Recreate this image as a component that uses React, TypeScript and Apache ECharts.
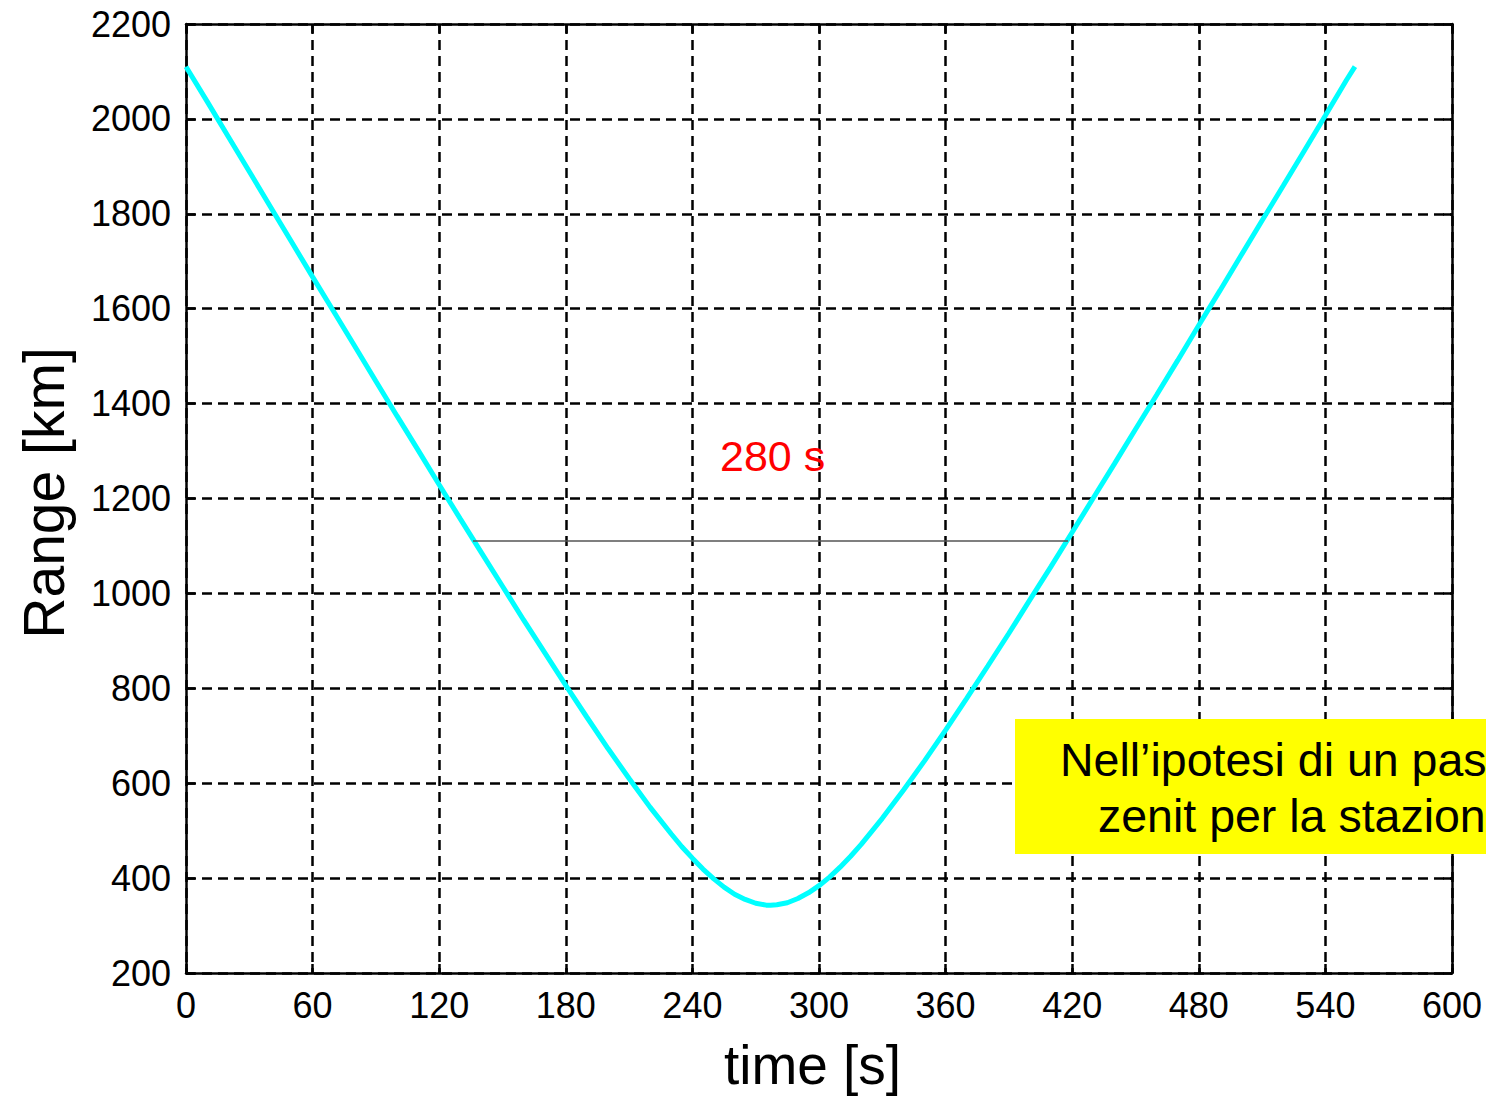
import React, { useEffect, useRef } from "react";
import * as echarts from "echarts";

// time [s]
const TIME = [
  0, 10, 20, 30, 40, 50, 60, 70, 80, 90, 100, 110, 120, 130, 140, 150, 160, 170, 180, 190,
  200, 210, 220, 230, 235, 240, 245, 250, 255, 260, 265, 270, 275, 277, 280, 285, 290, 295,
  300, 305, 310, 315, 320, 330, 340, 350, 360, 370, 380, 390, 400, 410, 420, 430, 440, 450,
  460, 470, 480, 490, 500, 510, 520, 530, 540, 550, 554,
];
// range [km]
const RANGE = [
  2110, 2037, 1963, 1889, 1815, 1741, 1667, 1594, 1521, 1447, 1374, 1302, 1229, 1157, 1086,
  1015, 944, 875, 806, 739, 673, 610, 549, 493, 466, 442, 419, 399, 381, 366, 355, 347, 343,
  343, 344, 348, 357, 369, 384, 402, 423, 446, 471, 526, 585, 647, 712, 779, 847, 916, 987,
  1057, 1129, 1201, 1273, 1346, 1418, 1491, 1565, 1638, 1712, 1786, 1859, 1933, 2007, 2082,
  2110,
];

const X_MIN = 0;
const X_MAX = 600;
const X_STEP = 60;
const Y_MIN = 200;
const Y_MAX = 2200;
const Y_STEP = 200;

// visibility window annotation
const WINDOW_T = [136, 418];
const WINDOW_RANGE = 1111;
const WINDOW_LABEL = "280 s";
const WINDOW_LABEL_POS = [278, 1290];

const NOTE_LINES = ["Nell\u2019ipotesi di un pas", "zenit per la stazion"];

const FONT = "'Liberation Sans', Arial, Helvetica, sans-serif";

export default function App() {
  const ref = useRef<HTMLDivElement>(null);

  useEffect(() => {
    if (!ref.current) return;
    const chart = echarts.init(ref.current, undefined, { renderer: "svg" });

    const axisLine = { show: true, onZero: false, lineStyle: { color: "#000", width: 2.5 } };
    const axisTick = { show: true, inside: true, length: 9, lineStyle: { color: "#000", width: 2.5 } };
    const splitLine = { show: true, lineStyle: { color: "#000", width: 2.5, type: [10, 6] as any } };
    const plain = (v: number) => String(v);

    chart.setOption({
      animation: false,
      backgroundColor: "#fff",
      grid: { left: 186, right: 34, top: 24, bottom: 125, containLabel: false },
      xAxis: [
        {
          type: "value",
          position: "bottom",
          min: X_MIN,
          max: X_MAX,
          interval: X_STEP,
          axisLine,
          axisTick,
          splitLine,
          axisLabel: { color: "#000", fontSize: 36, margin: 14, fontFamily: FONT, formatter: plain },
          name: "time [s]",
          nameLocation: "middle",
          nameGap: 64,
          nameTextStyle: { color: "#000", fontSize: 55, fontFamily: FONT, padding: [0, 13, 0, 0] },
        },
        {
          type: "value",
          position: "top",
          min: X_MIN,
          max: X_MAX,
          interval: X_STEP,
          axisLine,
          axisTick,
          splitLine: { show: false },
          axisLabel: { show: false },
        },
      ],
      yAxis: [
        {
          type: "value",
          position: "left",
          min: Y_MIN,
          max: Y_MAX,
          interval: Y_STEP,
          axisLine,
          axisTick,
          splitLine,
          axisLabel: { color: "#000", fontSize: 36, margin: 15, fontFamily: FONT, formatter: plain },
          name: "Range [km]",
          nameLocation: "middle",
          nameRotate: 90,
          nameGap: 114,
          nameTextStyle: { color: "#000", fontSize: 57, fontFamily: FONT, padding: [0, 0, 0, 11] },
        },
        {
          type: "value",
          position: "right",
          min: Y_MIN,
          max: Y_MAX,
          interval: Y_STEP,
          axisLine,
          axisTick,
          splitLine: { show: false },
          axisLabel: { show: false },
        },
      ],
      series: [
        {
          type: "line",
          xAxisIndex: 0,
          yAxisIndex: 0,
          data: TIME.map((t, i) => [t, RANGE[i]]),
          showSymbol: false,
          symbol: "none",
          lineStyle: { color: "#00FFFF", width: 5 },
          z: 3,
          markLine: {
            silent: true,
            symbol: "none",
            label: { show: false },
            lineStyle: { color: "#555", width: 1.5, type: "solid" },
            data: [
              [
                { coord: [WINDOW_T[0], WINDOW_RANGE] },
                { coord: [WINDOW_T[1], WINDOW_RANGE] },
              ],
            ],
          },
          markPoint: {
            silent: true,
            symbol: "rect",
            symbolSize: 1,
            itemStyle: { color: "rgba(0,0,0,0)" },
            label: {
              show: true,
              position: "inside",
              formatter: WINDOW_LABEL,
              color: "#FF0000",
              fontSize: 43,
              fontFamily: FONT,
            },
            data: [{ coord: WINDOW_LABEL_POS }],
          },
        },
      ],
      graphic: [
        {
          type: "rect",
          left: 1015,
          top: 719,
          shape: { width: 471, height: 135 },
          style: { fill: "#FFFF00" },
          z: 100,
        },
        {
          type: "text",
          x: 1060,
          y: 760,
          style: {
            text: NOTE_LINES[0],
            fill: "#000",
            fontSize: 46.5,
            fontFamily: FONT,
            verticalAlign: "middle",
            align: "left",
          },
          z: 101,
        },
        {
          type: "text",
          x: 1098,
          y: 816,
          style: {
            text: NOTE_LINES[1],
            fill: "#000",
            fontSize: 46.5,
            fontFamily: FONT,
            verticalAlign: "middle",
            align: "left",
          },
          z: 101,
        },
      ],
    });

    return () => chart.dispose();
  }, []);

  return (
    <div
      ref={ref}
      style={{ position: "absolute", left: 0, top: 0, width: 1486, height: 1098 }}
    />
  );
}
